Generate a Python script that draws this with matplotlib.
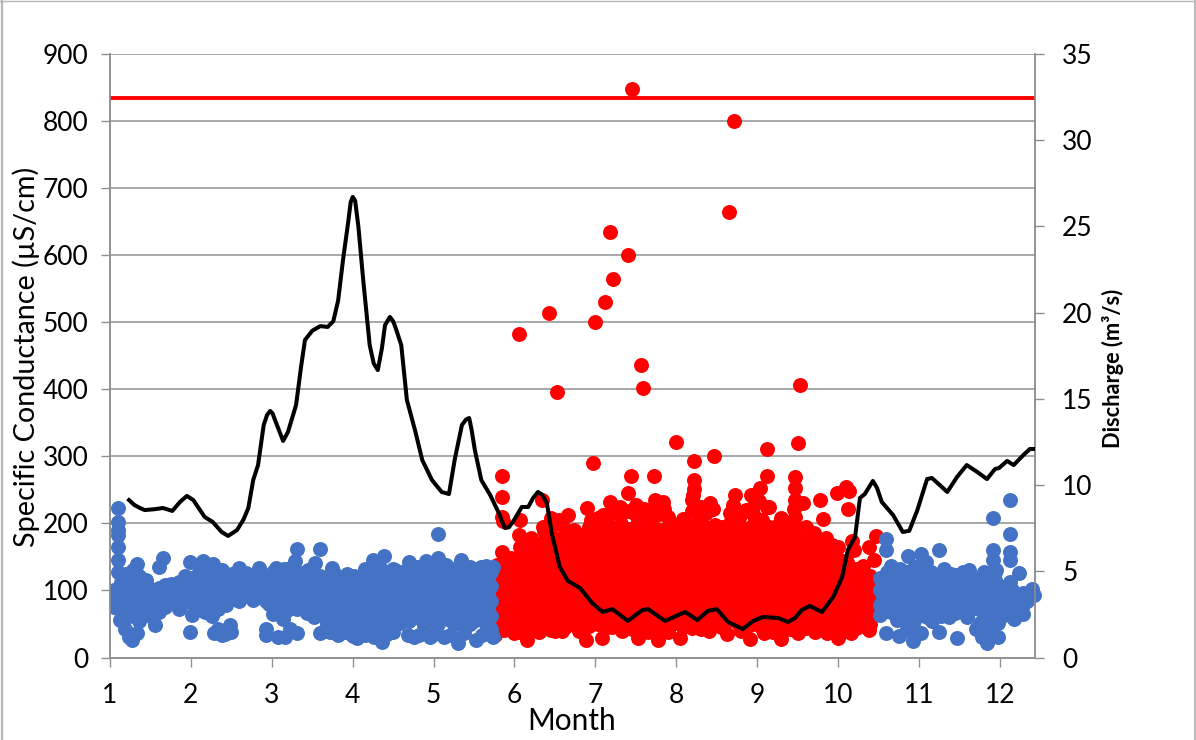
import matplotlib
matplotlib.use("Agg")
import matplotlib.pyplot as plt
from matplotlib.lines import Line2D

plt.rcParams['font.family'] = ['Lato', 'DejaVu Sans']

limit_sc = 835

# discharge trace
flow_month = [1.235, 1.30, 1.37, 1.43, 1.55, 1.655, 1.77, 1.865, 1.95, 2.03, 2.17, 2.27, 2.38, 2.46, 2.57, 2.65, 2.71, 2.77, 2.83,
              2.90, 2.94, 2.98, 3.01, 3.04, 3.14, 3.20, 3.30, 3.36, 3.41, 3.50, 3.60, 3.69, 3.76, 3.82, 3.88, 3.94, 3.975, 4.00, 4.03, 4.07, 4.13,
              4.21, 4.26, 4.31, 4.36, 4.40, 4.46, 4.50, 4.54, 4.60, 4.67, 4.77, 4.86, 4.98, 5.10, 5.19, 5.26, 5.35, 5.40, 5.44, 5.47, 5.51,
              5.59, 5.70, 5.80, 5.88, 5.93, 5.98, 6.09, 6.17, 6.23, 6.29, 6.34, 6.40, 6.46, 6.56, 6.66, 6.81, 6.96, 7.09, 7.21,
              7.40, 7.58, 7.65, 7.86, 8.11, 8.26, 8.39, 8.50, 8.64, 8.82, 8.95, 9.07, 9.26, 9.38, 9.47, 9.55, 9.65,
              9.80, 9.94, 10.05, 10.12, 10.21, 10.27, 10.33, 10.43, 10.48, 10.54, 10.68, 10.80, 10.88, 10.98, 11.10, 11.16,
              11.35, 11.47, 11.59, 11.72, 11.84, 11.94, 11.99, 12.09, 12.17, 12.29, 12.37, 12.42]
flow_q = [9.13, 8.85, 8.67, 8.55, 8.60, 8.67, 8.50, 9.02, 9.37, 9.13, 8.15, 7.86, 7.28, 7.05, 7.39, 8.00, 8.67, 10.29, 11.16,
          13.48, 14.05, 14.30, 14.15, 13.77, 12.56, 13.08, 14.64, 16.80, 18.41, 18.95, 19.22, 19.17, 19.50, 20.70, 23.05, 25.10, 26.40, 26.71, 26.50, 25.00, 21.89,
          18.12, 17.05, 16.67, 17.90, 19.28, 19.75, 19.50, 18.99, 18.12, 14.93, 13.19, 11.45, 10.29, 9.60, 9.48, 11.45, 13.48, 13.80, 13.89, 13.20, 12.03,
          10.29, 9.42, 8.44, 7.51, 7.55, 7.86, 8.73, 8.73, 9.25, 9.60, 9.45, 8.96, 7.22, 5.25, 4.44, 4.03, 3.16, 2.64, 2.81,
          2.12, 2.75, 2.81, 2.12, 2.64, 2.17, 2.70, 2.81, 2.06, 1.65, 2.12, 2.35, 2.29, 2.06, 2.30, 2.75, 2.99,
          2.64, 3.51, 4.67, 6.23, 6.99, 9.25, 9.48, 10.24, 9.85, 9.02, 8.26, 7.28, 7.35, 8.55, 10.35, 10.41,
          9.60, 10.47, 11.16, 10.76, 10.35, 10.93, 10.99, 11.40, 11.16, 11.74, 12.09, 12.09]

# points standing clear of the red cloud
red_edge_month = [7.45, 8.71, 8.65, 7.18, 7.40, 7.22, 7.12, 6.43, 7.00, 6.06, 7.56, 7.59, 6.53, 9.53, 6.97, 8.00,
                  8.22, 8.47, 9.12, 9.50, 5.84, 7.44, 7.72, 9.12, 9.47, 5.84, 8.22, 8.22, 8.21, 9.47, 9.47, 9.57,
                  9.03, 8.92, 8.72, 9.78, 9.99, 10.10, 10.13, 10.12, 9.81, 7.40, 6.34, 6.07, 6.06, 5.84, 5.84, 5.86,
                  6.66, 6.90, 7.18, 7.74, 7.84, 8.42, 9.02, 9.12, 9.47, 10.17, 10.47, 10.38, 10.44,
                  6.89, 7.08, 6.15, 5.76, 5.99, 6.59, 7.33, 7.53, 7.78, 8.05, 8.19, 8.41, 8.63, 8.91, 9.08, 9.29,
                  9.50, 9.71, 10.00, 10.16, 10.38, 9.86,
                  6.10, 6.20, 6.35, 6.45, 6.55, 6.95, 7.10, 7.30, 7.50, 7.60, 7.75, 7.85, 8.20, 8.30, 8.45, 8.70,
                  8.95, 9.15, 9.30, 9.45, 9.60, 9.70, 9.85, 10.00, 10.20, 10.30,
                  6.20, 6.30, 6.50, 6.70, 6.80, 7.20, 7.45, 7.65, 7.90, 8.30, 8.55, 8.80, 9.20, 9.40, 9.60, 9.95, 10.25]
red_edge_sc = [848, 800, 664, 634, 600, 564, 530, 514, 500, 482, 436, 402, 396, 406, 290, 322,
               293, 300, 311, 320, 270, 270, 270, 271, 269, 240, 264, 252, 243, 253, 235, 230,
               253, 243, 243, 235, 246, 255, 249, 221, 206, 245, 235, 205, 183, 157, 210, 203,
               213, 223, 232, 235, 232, 230, 233, 225, 210, 173, 181, 165, 146,
               26, 29, 26, 34, 36, 39, 40, 29, 26, 29, 44, 39, 35, 27, 36, 27,
               36, 38, 29, 36, 41, 36,
               172, 178, 195, 208, 205, 205, 212, 225, 228, 222, 228, 222, 235, 225, 222, 228,
               225, 225, 208, 222, 195, 185, 178, 165, 160, 130,
               40, 38, 40, 50, 40, 46, 42, 38, 38, 42, 46, 40, 38, 42, 44, 40, 46]

# the red cloud, one list of readings per month position
red_month = [5.78, 5.87, 5.96, 6.07, 6.16, 6.25, 6.36, 6.45, 6.54, 6.63, 6.74, 6.83, 6.92, 7.03, 7.12, 7.21, 7.32,
             7.41, 7.50, 7.61, 7.70, 7.79, 7.90, 7.99, 8.08, 8.19, 8.28, 8.37, 8.48, 8.57, 8.66, 8.77, 8.86, 8.95,
             9.06, 9.15, 9.24, 9.35, 9.44, 9.53, 9.64, 9.73, 9.82, 9.93, 10.02, 10.11, 10.22, 10.31, 10.40]
red_sc = [
    [48, 66, 84, 103, 121, 138],
    [41, 58, 77, 95, 112, 130, 141],
    [44, 62, 81, 99, 117, 136, 148],
    [38, 54, 72, 91, 108, 127, 145, 165],
    [47, 65, 83, 102, 120, 139, 157, 168],
    [42, 59, 78, 96, 114, 133, 151, 170],
    [46, 63, 82, 100, 119, 137, 155, 174, 188],
    [41, 60, 79, 97, 116, 134, 152, 171, 195],
    [48, 66, 84, 103, 121, 140, 158, 177, 200],
    [45, 62, 80, 99, 117, 136, 154, 172, 192],
    [52, 68, 86, 105, 123, 141, 160, 178, 190],
    [55, 72, 90, 108, 127, 145, 163, 182],
    [47, 64, 83, 101, 120, 138, 156, 175, 194],
    [50, 68, 87, 105, 124, 142, 160, 179, 198, 208],
    [44, 61, 79, 98, 116, 135, 153, 171, 190, 212],
    [48, 66, 85, 103, 121, 140, 158, 177, 195, 215],
    [52, 70, 88, 107, 125, 143, 162, 180, 199, 214],
    [46, 63, 81, 100, 118, 137, 155, 173, 192, 218],
    [50, 67, 86, 104, 123, 141, 159, 178, 196, 212],
    [45, 62, 80, 99, 117, 135, 154, 172, 191, 209],
    [50, 68, 87, 105, 124, 142, 160, 179, 197, 222],
    [44, 61, 79, 98, 116, 135, 153, 171, 190, 214],
    [48, 66, 84, 103, 121, 139, 158, 176, 195, 210],
    [52, 70, 89, 107, 125, 144, 162, 181, 198],
    [46, 63, 82, 100, 119, 137, 155, 174, 192, 206],
    [50, 67, 86, 104, 122, 141, 159, 178, 196, 218],
    [44, 62, 80, 99, 117, 136, 154, 172, 191, 208],
    [48, 66, 85, 103, 121, 140, 158, 176, 195, 216],
    [52, 69, 87, 106, 124, 142, 161, 179, 198],
    [50, 65, 83, 102, 120, 139, 157, 175, 194],
    [56, 73, 91, 110, 128, 146, 165, 183, 201, 216],
    [48, 66, 84, 103, 121, 139, 158, 176, 195, 208],
    [46, 62, 81, 99, 118, 136, 154, 173, 191, 220],
    [50, 68, 86, 105, 123, 142, 160, 178, 197, 214],
    [44, 61, 79, 98, 116, 135, 153, 171, 190, 205],
    [48, 65, 84, 102, 121, 139, 157, 176, 194],
    [52, 70, 88, 107, 125, 143, 162, 180, 196],
    [46, 63, 82, 100, 118, 137, 155, 174, 192],
    [50, 67, 86, 104, 122, 141, 159, 177, 192, 199],
    [55, 72, 90, 109, 127, 145, 164, 178],
    [48, 65, 83, 102, 120, 139, 157, 172],
    [44, 61, 79, 98, 116, 135, 153, 170],
    [48, 66, 84, 103, 121, 139, 155, 175],
    [45, 62, 80, 99, 117, 135, 152, 168],
    [42, 59, 78, 96, 114, 133, 146],
    [47, 65, 83, 101, 120, 138, 142],
    [44, 61, 80, 98, 116, 132],
    [48, 66, 84, 103, 121, 136],
    [50, 68, 87, 105, 122],
]

# points standing clear of the blue cloud
blue_edge_month = [1.10, 1.10, 1.10, 1.10, 1.10, 1.10, 1.10, 1.33, 1.65, 1.61, 1.99, 2.15, 2.27, 2.59, 2.84, 3.05,
                   3.31, 3.29, 3.59, 3.53, 3.74, 3.93, 4.25, 4.39, 4.69, 4.90, 5.06, 5.06, 5.34, 5.58, 5.73,
                   1.27, 1.23, 1.33, 1.56, 1.12, 1.99, 2.28, 2.38, 2.50, 2.48, 2.93, 2.93, 3.16, 3.31, 3.01, 3.14,
                   3.60, 3.82, 3.72, 4.05, 4.36, 4.42, 4.26, 4.76, 4.95, 5.13, 5.30, 5.52, 5.73,
                   10.59, 10.59, 10.65, 10.87, 11.03, 11.09, 11.25, 11.31, 11.62, 11.47, 11.91, 12.13, 12.13, 11.91,
                   12.13, 11.91, 12.13, 12.24, 12.13, 12.40, 12.42, 10.52, 10.59, 10.75, 10.93, 11.03, 11.25, 11.47,
                   11.78, 11.84, 11.98, 12.17, 12.29, 12.33, 10.73, 11.16, 11.37, 11.59, 11.75, 11.98,
                   3.65, 3.90, 4.00, 4.15, 4.30, 4.50, 4.58, 4.68, 4.82, 4.88, 5.00, 5.05, 5.20, 5.25, 5.38, 5.45,
                   5.60, 5.66, 3.22, 3.08, 3.70, 3.78, 4.10, 1.18, 2.42, 2.33, 10.85, 10.98, 11.70, 11.88,
                   2.38, 3.15, 3.45, 4.15, 4.50, 4.80, 5.00, 5.15, 5.25, 5.45, 5.65, 10.70, 10.95, 11.15, 11.40,
                   11.55, 11.80, 11.95]
blue_edge_sc = [223, 202, 190, 183, 165, 145, 128, 139, 149, 135, 143, 144, 139, 134, 133, 134,
                162, 144, 162, 141, 134, 124, 145, 152, 142, 144, 184, 148, 145, 135, 135,
                26, 31, 36, 48, 56, 38, 36, 33, 38, 48, 43, 33, 30, 36, 65, 58,
                36, 33, 38, 29, 23, 35, 31, 31, 31, 31, 21, 26, 31,
                177, 161, 137, 151, 154, 143, 161, 132, 131, 123, 208, 235, 184, 160,
                157, 146, 146, 126, 112, 102, 93, 64, 37, 32, 24, 37, 38, 29,
                30, 22, 30, 58, 65, 84, 56, 54, 61, 60, 51, 51,
                40, 38, 32, 33, 36, 38, 52, 34, 33, 48, 35, 50, 33, 50, 36, 50,
                33, 45, 42, 30, 50, 46, 44, 42, 35, 42, 42, 36, 42, 36,
                130, 132, 130, 132, 132, 135, 138, 138, 132, 135, 136, 130, 135, 128, 125,
                128, 128, 130]

# the blue cloud, one list of readings per month position
blue_month = [1.05, 1.13, 1.20, 1.28, 1.36, 1.44, 1.52, 1.60, 1.68, 1.76, 1.85, 1.93, 2.01, 2.10, 2.18, 2.26, 2.34,
              2.43, 2.51, 2.60, 2.68, 2.77, 2.85, 2.93, 3.01, 3.10, 3.18, 3.26, 3.35, 3.43, 3.52, 3.60, 3.68, 3.77,
              3.85, 3.94, 4.02, 4.10, 4.19, 4.27, 4.35, 4.44, 4.52, 4.61, 4.69, 4.78, 4.86, 4.94, 5.03, 5.11, 5.20,
              5.28, 5.37, 5.45, 5.53, 5.62, 5.71,
              10.52, 10.60, 10.68, 10.77, 10.85, 10.94, 11.02, 11.10, 11.19, 11.27, 11.36, 11.44, 11.52, 11.61,
              11.69, 11.78, 11.86, 11.94, 12.03, 12.11, 12.20, 12.28]
blue_sc = [
    [100, 88, 76], [68, 95, 112], [60, 84, 104, 124], [62, 85, 110, 130], [55, 78, 100, 122], [72, 95, 116], [60, 82, 100],
    [68, 90, 104], [76, 98, 108], [82, 100, 110], [72, 90, 112], [84, 106, 122], [64, 92, 118], [80, 104, 128],
    [68, 88, 112, 132], [62, 82, 104, 126], [72, 94, 116, 130], [78, 100, 122], [88, 108, 124], [84, 102, 120],
    [92, 110, 126], [86, 104, 122], [90, 108, 128], [84, 102, 120], [90, 112, 128], [76, 98, 118, 130],
    [70, 92, 114, 132], [74, 96, 118, 136], [82, 104, 126], [66, 90, 112], [60, 84, 106, 124], [66, 88, 110, 122],
    [52, 76, 98, 120], [58, 82, 104, 126], [66, 88, 110], [50, 74, 96, 118], [56, 78, 100, 122], [46, 70, 92, 114],
    [52, 74, 96, 118, 132], [44, 68, 90, 112, 134], [50, 72, 94, 116, 132], [56, 80, 102, 124], [62, 84, 106, 130],
    [58, 82, 104, 128], [54, 78, 100, 122], [60, 84, 106, 130], [56, 78, 100, 124], [62, 86, 108, 130],
    [54, 76, 98, 122, 136], [60, 84, 106, 128], [56, 78, 100, 124], [62, 86, 108, 132], [54, 76, 98, 122, 134],
    [60, 82, 104, 128], [56, 78, 102, 124], [60, 84, 106, 128], [42, 62, 84, 106, 128],
    [78, 100, 118], [70, 92, 112, 128], [66, 86, 108, 126], [72, 94, 114, 132], [62, 84, 106, 128],
    [54, 76, 98, 120, 134], [66, 88, 110, 128], [60, 82, 104, 122], [68, 90, 112], [62, 86, 106, 124],
    [72, 94, 116], [66, 88, 110, 122], [72, 94, 114], [68, 90, 112, 124], [74, 96, 116],
    [48, 70, 92, 114, 122], [56, 78, 100, 118, 126], [50, 72, 94, 116, 128], [62, 84, 104], [68, 90, 108], [72, 92], [78, 96],
]

# more readings lying between the rows above
blue_mid_month = [1.16, 1.24, 1.32, 1.48, 1.90, 2.06, 2.14, 2.22, 2.30, 2.39, 2.47, 2.56, 2.64, 2.72, 2.81, 2.89, 2.97,
                  3.06, 3.14, 3.22, 3.31, 3.39, 3.48, 3.56, 3.64, 3.73, 3.81, 3.90, 3.98, 4.06, 4.15, 4.23, 4.31,
                  4.40, 4.48, 4.57, 4.65, 4.74, 4.82, 4.90, 4.99, 5.07, 5.16, 5.24, 5.33, 5.41, 5.49, 5.58, 5.67,
                  10.56, 10.64, 10.73, 10.81, 10.90, 10.98, 11.06, 11.15, 11.23, 11.32, 11.40, 11.48, 11.57, 11.65,
                  11.74, 11.82, 11.90, 11.99, 12.07, 12.15]
blue_mid_sc = [
    [74, 104], [72, 96, 118], [74, 98, 120], [84, 104], [82, 100], [74, 94, 116], [78, 100, 122], [74, 94, 118],
    [84, 106], [90, 110], [98, 116], [94, 112], [102, 118], [96, 114], [100, 118], [94, 112], [80, 102, 120],
    [88, 108], [82, 104, 124], [86, 108, 126], [72, 94, 116], [78, 100, 120], [74, 98, 116], [78, 100, 116],
    [64, 88, 108], [70, 94, 114], [76, 98], [62, 86, 108], [68, 90, 112], [58, 80, 104], [64, 86, 108, 126],
    [56, 80, 102, 124], [62, 84, 106, 124], [68, 92, 114], [72, 96, 118], [70, 94, 116], [66, 90, 112],
    [72, 96, 118], [68, 90, 114], [74, 98, 120], [66, 88, 110], [72, 96, 118], [68, 90, 112], [74, 98, 120],
    [66, 88, 110], [72, 94, 116], [68, 90, 114], [72, 96, 118], [52, 74, 96, 118],
    [88, 110], [82, 104, 118], [76, 98, 118], [84, 104, 122], [74, 96, 118], [66, 88, 110], [78, 100, 116],
    [72, 94, 114], [80, 102], [74, 96, 116], [84, 106], [78, 100], [84, 104], [80, 102], [86, 106],
    [60, 82, 104], [68, 90, 108], [62, 84, 106], [74, 96], [80, 100],
]

sc_ticks = [0, 100, 200, 300, 400, 500, 600, 700, 800, 900]
q_ticks = [0, 5, 10, 15, 20, 25, 30, 35]
month_ticks = list(range(1, 13))


def flat(months, rows):
    xs, ys = [], []
    for m, row in zip(months, rows):
        xs += [m] * len(row)
        ys += row
    return xs, ys


grey = '#8f8f8f'
dot = 116
fig = plt.figure(figsize=(11.96, 7.4), dpi=100)
ax = fig.add_axes([110 / 1196, 82.5 / 740, 925 / 1196, 603.5 / 740])

ax.set_xlim(1, 12.434)
ax.set_ylim(0, 900)
ax.set_xticks(month_ticks)
ax.set_yticks(sc_ticks)
ax.yaxis.grid(True, color=grey, lw=1.1)
ax.set_axisbelow(True)
ax.tick_params(axis='y', labelsize=19, length=6.5, width=1, color=grey, pad=9)
ax.tick_params(axis='x', labelsize=19, length=6.5, width=1, color=grey, pad=12)

x, y = flat(red_month, red_sc)
ax.scatter(x, y, s=dot, color='#ff0000', linewidths=0, zorder=3)
ax.scatter(red_edge_month, red_edge_sc, s=dot, color='#ff0000', linewidths=0, zorder=3)
x, y = flat(blue_month, blue_sc)
ax.scatter(x, y, s=dot, color='#4472c4', linewidths=0, zorder=4)
x, y = flat(blue_mid_month, blue_mid_sc)
ax.scatter(x, y, s=dot, color='#4472c4', linewidths=0, zorder=4)
ax.scatter(blue_edge_month, blue_edge_sc, s=dot, color='#4472c4', linewidths=0, zorder=4, clip_on=False)
ax.axhline(limit_sc, color='#ff0000', lw=2.8, zorder=5)

ax2 = ax.twinx()
ax2.set_ylim(0, 35)
ax2.set_yticks(q_ticks)
ax2.tick_params(axis='y', labelsize=19, length=6.5, width=1, color=grey, pad=13)
ax2.plot(flow_month, flow_q, color='black', lw=2.9, solid_joinstyle='round', zorder=6)

for a in (ax, ax2):
    a.spines['top'].set_visible(False)
    for side in ('left', 'right', 'bottom'):
        a.spines[side].set_color(grey)
        a.spines[side].set_linewidth(1.1)

fig.text(572 / 1196, 1 - 721 / 740, 'Month', ha='center', va='center', fontsize=21.5)
fig.text(26 / 1196, 1 - 357 / 740, 'Specific Conductance (µS/cm)', ha='center', va='center',
         rotation=90, fontsize=20.7)
fig.text(1113 / 1196, 1 - 368 / 740, 'Discharge (m³/s)', ha='center', va='center',
         rotation=90, fontsize=15.7, fontweight='bold')

# slide frame round the pasted chart
frame = '#b5b5b5'
fig.add_artist(Line2D([1.5 / 1196, 1.5 / 1196], [0, 1], color=frame, lw=1.6))
fig.add_artist(Line2D([0, 1], [1 - 1 / 740, 1 - 1 / 740], color=frame, lw=1))
fig.add_artist(Line2D([1194.5 / 1196, 1194.5 / 1196], [0, 1], color=frame, lw=1.4))

fig.savefig('out.png', dpi=100)
